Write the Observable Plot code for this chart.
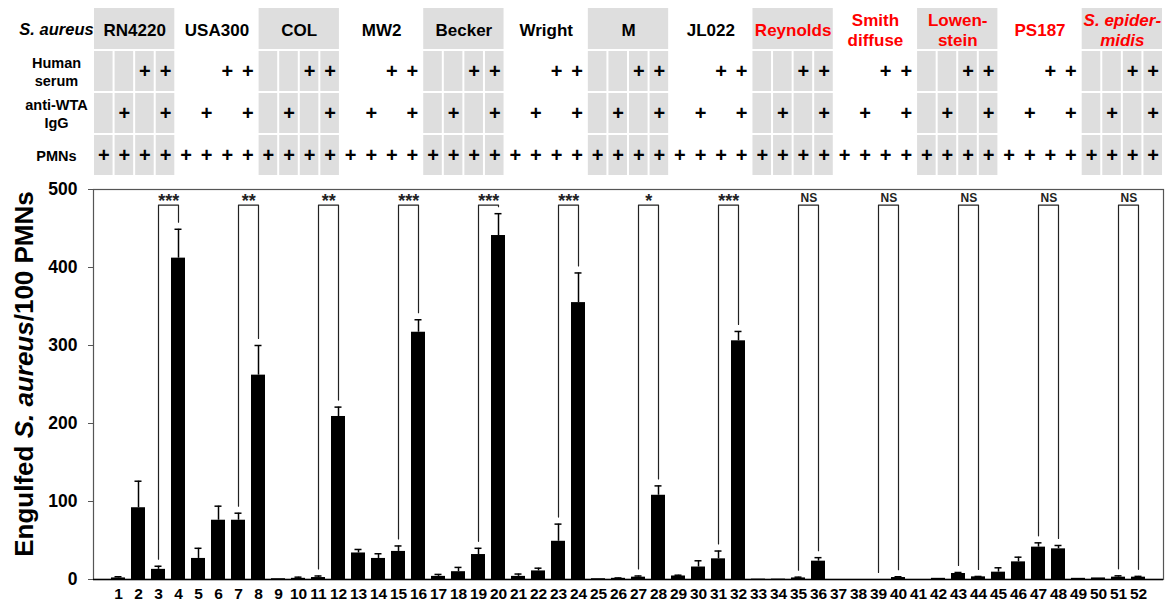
<!DOCTYPE html>
<html><head><meta charset="utf-8">
<script src="https://cdn.jsdelivr.net/npm/d3@7"></script>
<script src="https://cdn.jsdelivr.net/npm/@observablehq/plot@0.6"></script>
<style>
body{margin:0;background:#fff;font-family:"Liberation Sans",Arial,sans-serif;}
#chart svg{display:block}
</style></head><body><div id="chart"></div>
<script>
// ---- data ----
const strains = ["RN4220","USA300","COL","MW2","Becker","Wright","M","JL022","Reynolds","Smith\ndiffuse","Lowen-\nstein","PS187","S. epider-\nmidis"];
const strainIsAureusRef = [true,true,true,true,true,true,true,true,false,false,false,false,false];
const strainItalic = [false,false,false,false,false,false,false,false,false,false,false,false,true];
const humanSerum = [false,false,true,true];
const antiWTA = [false,true,false,true];
const pmns = [true,true,true,true];
const rowLabels = ["Human\nserum","anti-WTA\nIgG","PMNs"];
const barLabels = ["1","2","3","4","5","6","7","8","9","10","11","12","13","14","15","16","17","18","19","20","21","22","23","24","25","26","27","28","29","30","31","32","33","34","35","36","37","38","39","40","41","42","43","44","45","46","47","48","49","50","51","52"];
const values = [2,92,13,412, 27,76,76,262, 1,1.5,2.5,209, 34,27,36,317, 4,10,32,441, 4,11,49,355, 1,1.5,3,108, 4.5,16,26.5,306, 0.5,0.5,2,23.5, 0,0,0,2.5, 0,1.5,7.7,3.4, 9.4,22.6,41.5,39.3, 1.5,2,3,3];
const errors = [1.5,34,4,37, 13,18,9,38, 0,1.5,2,12, 4.5,6,7,16, 2.5,5.5,8,28, 3,3.5,22,38, 0,0.5,1.5,12, 1,8,10,12, 0,0,1,4.5, 0,0,0,1, 0,0,1.3,0.5, 5.6,6,5.5,4.3, 0,0,1.7,1];
const sigLabels = ["***","**","**","***","***","***","*","***","NS","NS","NS","NS","NS"];
const yTicks = [0,100,200,300,400,500];

// ---- layout ----
const W = 1172, ML = 93, MR = 9;
const FONT = "Liberation Sans, Arial, sans-serif";
const GREY = "#dedede";

// header table
const rows = ["strain","serum","wta","pmn"];
const cells = [];
barLabels.forEach((b,i)=>{
  const g = Math.floor(i/4), k = i%4;
  const c = i+1;
  [["serum",humanSerum[k]],["wta",antiWTA[k]],["pmn",pmns[k]]].forEach(([r,on])=>{
    cells.push({c, r, grey: g%2===0, plus: on});
  });
});
const groups = strains.map((s,g)=>({g, s, grey: g%2===0, color: strainIsAureusRef[g] ? "black" : "#ff0000", italic: strainItalic[g]}));

const header = Plot.plot({
  width: W, height: 178, marginLeft: ML, marginRight: MR, marginTop: 8, marginBottom: 2,
  style: {fontFamily: FONT, fontWeight: "bold", background: "white"},
  x: {type: "linear", domain: [0.5, barLabels.length + 0.5], axis: null},
  y: {type: "band", domain: rows, padding: 0, axis: null},
  marks: [
    Plot.barX(groups.filter(d=>d.grey), {x1: d=>d.g*4+0.5, x2: d=>d.g*4+4.5, y: ()=>"strain", fill: GREY, insetLeft: 1, insetRight: 1, insetBottom: 1}),
    Plot.barX(cells.filter(d=>d.grey), {x1: d=>d.c-0.5, x2: d=>d.c+0.5, y: "r", fill: GREY, inset: 1}),
    Plot.text(cells.filter(d=>d.plus), {x: "c", y: "r", text: ()=>"+", fontSize: 20, fontWeight: "bold", fill: "black"}),
    Plot.text(groups.filter(d=>!d.italic), {x: d=>d.g*4+2.5, y: ()=>"strain", text: "s", fill: "color", fontSize: 17, fontWeight: "bold", lineHeight: 1.18}),
    Plot.text(groups.filter(d=>d.italic), {x: d=>d.g*4+2.5, y: ()=>"strain", text: "s", fill: "color", fontSize: 17, fontWeight: "bold", fontStyle: "italic", lineHeight: 1.18}),
    Plot.text(["S. aureus"], {y: ()=>"strain", frameAnchor: "left", dx: -37, text: d=>d, fontSize: 16.5, fontWeight: "bold", fontStyle: "italic", textAnchor: "middle"}),
    Plot.text(rowLabels, {y: (d,i)=>rows[i+1], frameAnchor: "left", dx: -37, text: d=>d, fontSize: 14.5, fontWeight: "bold", textAnchor: "middle", lineHeight: 1.25})
  ]
});

// main chart
const data = barLabels.map((c,i)=>({c, v: values[i], e: errors[i]}));
const bracketTop = 480, gap = 9;
const brackets = sigLabels.map((s,g)=>{
  const a = g*4+2, b = g*4+3;
  return {g, s, a: barLabels[a], b: barLabels[b], ya: values[a]+errors[a]+gap, yb: values[b]+errors[b]+gap};
});
const bracketPts = brackets.flatMap(d=>[
  {g:d.g, c:d.a, y:d.ya}, {g:d.g, c:d.a, y:bracketTop}, {g:d.g, c:d.b, y:bracketTop}, {g:d.g, c:d.b, y:d.yb}
]);
const step = (W - ML - MR) / barLabels.length;

const main = Plot.plot({
  width: W, height: 424, marginLeft: ML, marginRight: MR, marginTop: 11, marginBottom: 23,
  style: {fontFamily: FONT, fontWeight: "bold", background: "white"},
  x: {type: "band", domain: barLabels, paddingInner: 0.32, paddingOuter: 0.16},
  y: {domain: [0, 500]},
  marks: [
    Plot.frame({stroke: "#555", strokeWidth: 1.2}),
    Plot.axisY({ticks: yTicks, tickSize: 5, tickPadding: 11, fontSize: 17.5, fontWeight: "bold", label: null, stroke: "#555", fill: "black"}),
    Plot.axisX({tickSize: 0, tickPadding: 8, fontSize: 15.5, fontWeight: "bold", label: null, fill: "black"}),
    Plot.barY(data, {x: "c", y: "v", fill: "black"}),
    Plot.ruleX(data.filter(d=>d.e>0), {x: "c", y1: "v", y2: d=>d.v+d.e, stroke: "black", strokeWidth: 1.5}),
    Plot.tickY(data.filter(d=>d.e>0), {x: "c", y: d=>d.v+d.e, insetLeft: 3.5, insetRight: 3.5, stroke: "black", strokeWidth: 1.5}),
    Plot.line(bracketPts, {x: "c", y: "y", z: "g", stroke: "#222", strokeWidth: 1.2}),
    Plot.text(brackets.filter(d=>d.s!=="NS"), {x: "a", y: ()=>bracketTop, dx: step/2, dy: -4, text: "s", fontSize: 18, fontWeight: "bold", fill: "#222", lineAnchor: "middle"}),
    Plot.text(brackets.filter(d=>d.s==="NS"), {x: "a", y: ()=>bracketTop, dx: step/2, dy: -7, text: "s", fontSize: 12, fontWeight: "bold", fill: "#222", lineAnchor: "middle"}),
    Plot.ruleY([0], {stroke: "black", strokeWidth: 1.5})
  ]
});

const lab = d3.select(main).append("text")
  .attr("transform", "translate(33,196) rotate(-90)")
  .attr("text-anchor", "middle")
  .attr("font-size", 26).attr("font-weight", "bold").attr("fill", "black")
  .attr("font-family", FONT);
lab.append("tspan").text("Engulfed ");
lab.append("tspan").attr("font-style", "italic").text("S. aureus");
lab.append("tspan").text("/100 PMNs");

const root = document.getElementById("chart");
root.appendChild(header);
root.appendChild(main);
</script></body></html>
